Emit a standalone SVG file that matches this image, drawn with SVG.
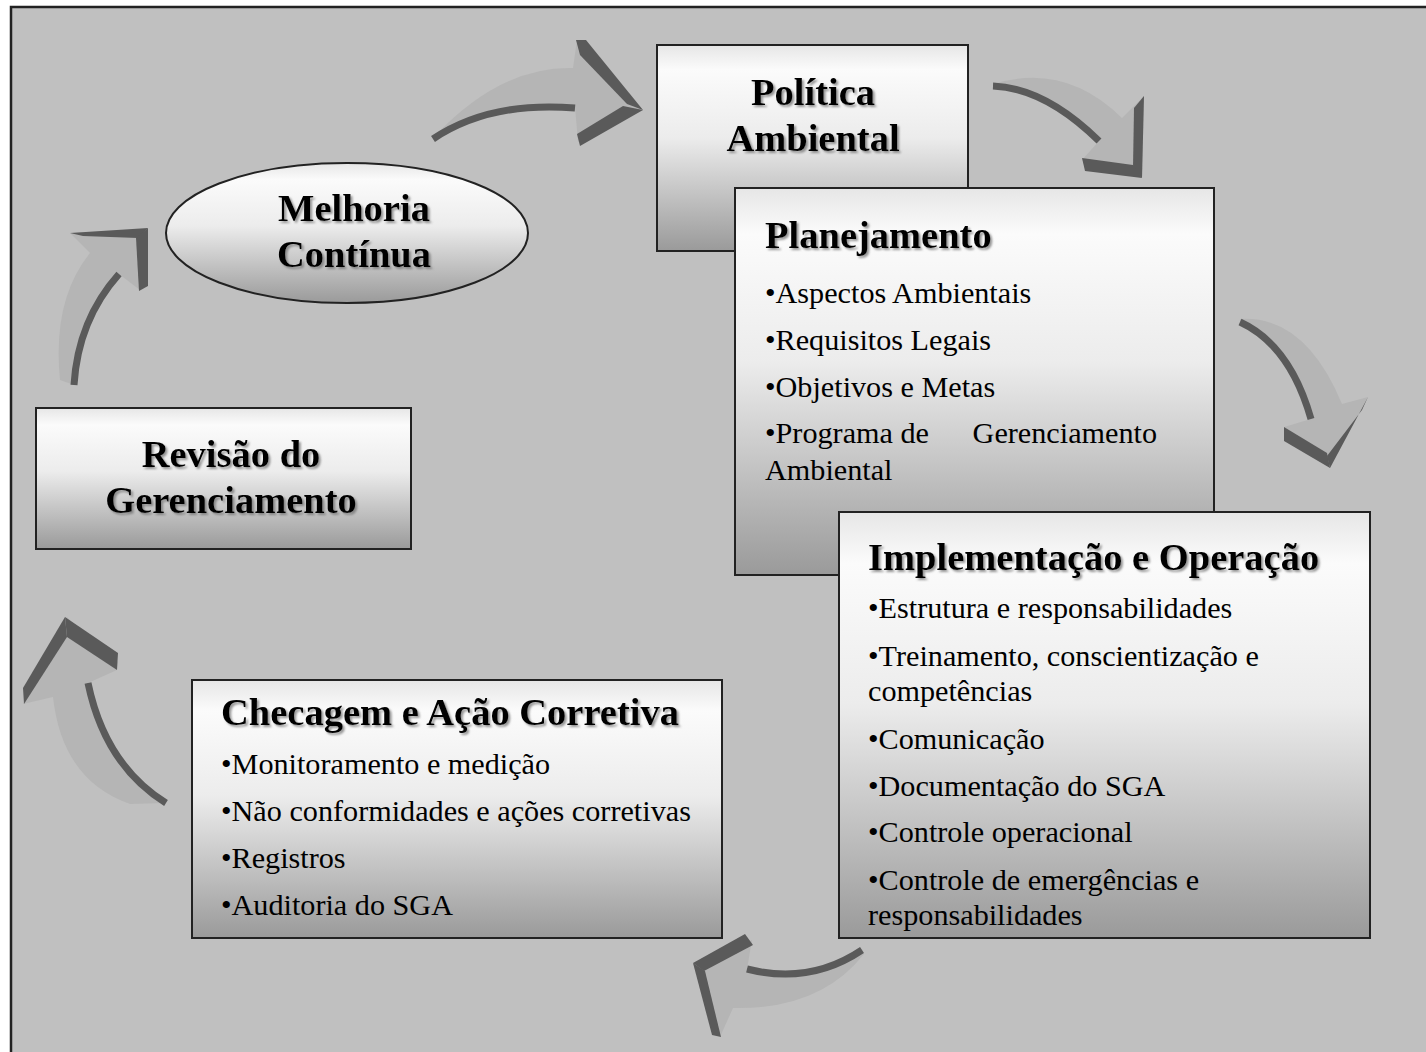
<svg xmlns="http://www.w3.org/2000/svg" width="1426" height="1052" viewBox="0 0 1426 1052">
<defs>
<linearGradient id="g" x1="0" y1="0" x2="0" y2="1">
<stop offset="0" stop-color="#e6e6e6"/>
<stop offset="0.12" stop-color="#fbfbfb"/>
<stop offset="0.45" stop-color="#ececec"/>
<stop offset="1" stop-color="#9a9a9a"/>
</linearGradient>
<filter id="sh" x="-5%" y="-20%" width="115%" height="150%">
<feDropShadow dx="2" dy="2" stdDeviation="1" flood-color="#6a6a6a" flood-opacity="0.7"/>
</filter>
<style>
.box{fill:url(#g);stroke:#222;stroke-width:2}
.t{font-family:"Liberation Serif","Times New Roman",serif;font-weight:bold;font-size:38.5px;fill:#000;filter:url(#sh)}
.c{text-anchor:middle}
.b{font-family:"Liberation Serif","Times New Roman",serif;font-size:30.2px;fill:#000}
.body{fill:#b5b5b5}
.dk{fill:#5a5a5a}
.sh{fill:none;stroke:#5a5a5a;stroke-width:7}
</style>
</defs>
<rect x="0" y="0" width="1426" height="1052" fill="#fff"/>
<rect x="11" y="7" width="1422" height="1052" fill="#c0c0c0" stroke="#222" stroke-width="2.5"/>

<g id="connectors">
<g id="arrow-top">
<path class="body" d="M433,138 Q490,100 575,107 L578,142 L643,110 L577,40 L573,68 Q500,66 433,138 Z"/>
<path class="sh" d="M433,139 Q490,101 575,108"/>
<polygon class="dk" points="576,40 586,40 643,110 627,104 580,55"/>
<polygon class="dk" points="643,110 580,146 577,134 623,106"/>
</g>
<g id="arrow-topright">
<path class="body" d="M993,84 Q1065,62 1122,118 L1144,96 L1142,178 L1082,160 L1099,141 Q1045,88 993,86 Z"/>
<path class="sh" d="M993,86 Q1045,88 1099,141"/>
<polygon class="dk" points="1144,96 1142,178 1133,168 1134,108"/>
<polygon class="dk" points="1082,158 1133,165 1142,178 1085,171"/>
</g>
<g id="arrow-right">
<path class="body" d="M1240,319 Q1305,315 1342,404 L1368,397 L1330,468 L1284,427 L1311,419 Q1288,350 1240,325 Z"/>
<path class="sh" d="M1240,322 Q1290,345 1311,419"/>
<polygon class="dk" points="1284,427 1327,453 1330,468 1284,441"/>
<polygon class="dk" points="1368,397 1330,468 1327,456 1362,410"/>
</g>
<g id="arrow-bottom">
<path class="body" d="M862,949 Q810,985 747,969 L752,940 L693,963 L720,1037 L733,1008 Q820,1010 864,954 Z"/>
<path class="sh" d="M862,950 Q810,985 747,969"/>
<polygon class="dk" points="693,963 745,934 753,945 704,971"/>
<polygon class="dk" points="693,963 705,971 721,1037 712,1035"/>
</g>
<g id="arrow-leftlow">
<path class="body" d="M88,683 Q105,765 166,803 L130,804 Q62,780 53,697 L23,704 L67,617 L117,670 Z"/>
<path class="sh" d="M88,683 Q105,765 166,803"/>
<polygon class="dk" points="65,617 67,637 24,704 23,688"/>
<polygon class="dk" points="65,617 118,653 117,670 67,637"/>
</g>
<g id="arrow-leftup">
<path class="body" d="M74,385 Q78,320 119,274 L140,290 L148,229 L70,233 L90,253 Q52,300 60,380 Z"/>
<path class="sh" d="M74,385 Q78,320 119,274"/>
<polygon class="dk" points="70,233 148,228 138,238 83,236"/>
<polygon class="dk" points="148,228 148,286 139,291 136,238"/>
</g>
</g>

<g id="politica">
<rect class="box" x="657" y="45" width="311" height="206"/>
<text class="t c" x="813" y="105">Política</text>
<text class="t c" x="813" y="151">Ambiental</text>
</g>

<g id="planejamento">
<rect class="box" x="735" y="188" width="479" height="387"/>
<text class="t" x="765" y="248">Planejamento</text>
<text class="b" x="765" y="303">•Aspectos Ambientais</text>
<text class="b" x="765" y="350">•Requisitos Legais</text>
<text class="b" x="765" y="397">•Objetivos e Metas</text>
<text class="b" x="765" y="443">•Programa de</text>
<text class="b" x="1157" y="443" text-anchor="end">Gerenciamento</text>
<text class="b" x="765" y="480">Ambiental</text>
</g>

<g id="implementacao">
<rect class="box" x="839" y="512" width="531" height="426"/>
<text class="t" x="868" y="570">Implementação e Operação</text>
<text class="b" x="868" y="618">•Estrutura e responsabilidades</text>
<text class="b" x="868" y="666">•Treinamento, conscientização e</text>
<text class="b" x="868" y="701">competências</text>
<text class="b" x="868" y="749">•Comunicação</text>
<text class="b" x="868" y="796">•Documentação do SGA</text>
<text class="b" x="868" y="842">•Controle operacional</text>
<text class="b" x="868" y="890">•Controle de emergências e</text>
<text class="b" x="868" y="925">responsabilidades</text>
</g>

<g id="checagem">
<rect class="box" x="192" y="680" width="530" height="258"/>
<text class="t" x="221" y="725">Checagem e Ação Corretiva</text>
<text class="b" x="221" y="774">•Monitoramento e medição</text>
<text class="b" x="221" y="821">•Não conformidades e ações corretivas</text>
<text class="b" x="221" y="868">•Registros</text>
<text class="b" x="221" y="915">•Auditoria do SGA</text>
</g>

<g id="revisao">
<rect class="box" x="36" y="408" width="375" height="141"/>
<text class="t c" x="231" y="467">Revisão do</text>
<text class="t c" x="231" y="513">Gerenciamento</text>
</g>

<g id="melhoria">
<ellipse class="box" cx="347" cy="233" rx="181" ry="70"/>
<text class="t c" x="354" y="221">Melhoria</text>
<text class="t c" x="354" y="267">Contínua</text>
</g>
</svg>
